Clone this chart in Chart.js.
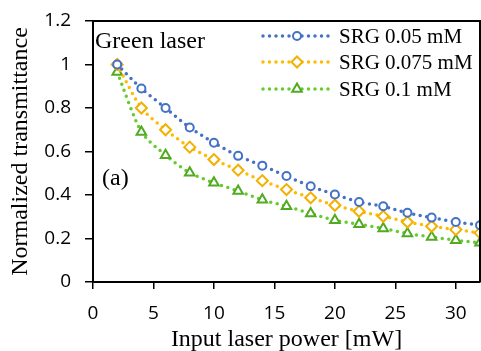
<!DOCTYPE html>
<html>
<head>
<meta charset="utf-8">
<script src="https://cdn.jsdelivr.net/npm/chart.js@4/dist/chart.umd.min.js"></script>
<style>
  html, body { margin: 0; padding: 0; background: #fff; }
  canvas { display: block; }
</style>
</head>
<body>
<canvas id="c" width="481" height="351"></canvas>
<script>
// ---- data ----
const powers = [2, 4, 6, 8, 10, 12, 14, 16, 18, 20, 22, 24, 26, 28, 30, 32];
const srg005 = [1.00, 0.89, 0.80, 0.71, 0.64, 0.58, 0.535, 0.487, 0.44, 0.402, 0.368, 0.348, 0.318, 0.296, 0.276, 0.261];
const srg0075 = [1.00, 0.80, 0.70, 0.62, 0.563, 0.514, 0.466, 0.425, 0.387, 0.353, 0.325, 0.302, 0.276, 0.256, 0.241, 0.226];
const srg01 = [0.965, 0.69, 0.583, 0.502, 0.456, 0.418, 0.378, 0.348, 0.315, 0.284, 0.266, 0.246, 0.223, 0.207, 0.192, 0.18];
const seriesLabels = ['SRG 0.05 mM', 'SRG 0.075 mM', 'SRG 0.1 mM'];
const xTickValues = [0, 5, 10, 15, 20, 25, 30];
const yTickValues = [0, 0.2, 0.4, 0.6, 0.8, 1.0, 1.2];

const toPts = (ys) => powers.map((x, i) => ({ x: x, y: ys[i] }));

const styles = [
  { line: '#4472C4', mark: '#4472C4', pointStyle: 'circle', r: 4 },
  { line: '#FFBB00', mark: '#F2B000', pointStyle: 'rectRot', r: 5.5 },
  { line: '#66CC2E', mark: '#52AA22', pointStyle: 'triangle', r: 5.5 }
];
const seriesData = [srg005, srg0075, srg01];

const datasets = seriesData.map((d, i) => ({
  label: seriesLabels[i],
  data: toPts(d),
  borderColor: styles[i].line,
  borderWidth: 3.5,
  borderDash: [0, 6.5],
  borderCapStyle: 'round',
  tension: 0.25,
  pointStyle: styles[i].pointStyle,
  pointRadius: styles[i].r,
  pointBorderWidth: 2,
  pointBorderColor: styles[i].mark,
  pointBackgroundColor: '#ffffff',
  fill: false
}));

const overlay = {
  id: 'overlay',
  afterDraw(chart) {
    const ctx = chart.ctx;
    const a = chart.chartArea;
    ctx.save();
    // frame top and right
    ctx.strokeStyle = '#000';
    ctx.lineWidth = 2;
    ctx.beginPath();
    ctx.moveTo(a.left, a.top);
    ctx.lineTo(a.right, a.top);
    ctx.lineTo(a.right, a.bottom);
    ctx.stroke();

    // annotations
    ctx.fillStyle = '#000';
    ctx.font = '24px "Liberation Serif", "Times New Roman", serif';
    ctx.textBaseline = 'alphabetic';
    ctx.textAlign = 'left';
    ctx.fillText('Green laser', 95, 48);
    ctx.fillText('(a)', 102, 185);

    // legend
    const rows = [36, 62, 89];
    const x0 = 263, x1 = 329, xm = 297;
    chart.data.datasets.forEach((ds, i) => {
      const y = rows[i];
      ctx.save();
      ctx.strokeStyle = ds.borderColor;
      ctx.lineWidth = ds.borderWidth;
      ctx.lineCap = 'round';
      ctx.setLineDash(ds.borderDash);
      ctx.beginPath();
      ctx.moveTo(x0, y);
      ctx.lineTo(x1, y);
      ctx.stroke();
      ctx.restore();
      ctx.save();
      ctx.fillStyle = '#fff';
      ctx.strokeStyle = ds.pointBorderColor;
      ctx.lineWidth = 2;
      Chart.helpers.drawPoint(ctx, { pointStyle: ds.pointStyle, radius: ds.pointRadius, borderWidth: 2, rotation: 0 }, xm, y);
      ctx.restore();
      ctx.fillStyle = '#000';
      ctx.font = '21px "Liberation Serif", "Times New Roman", serif';
      ctx.textBaseline = 'middle';
      ctx.fillText(ds.label, 339, y + 1);
    });
    ctx.restore();
  }
};

new Chart(document.getElementById('c'), {
  type: 'line',
  data: { datasets },
  options: {
    responsive: false,
    animation: false,
    devicePixelRatio: 1,
    layout: { autoPadding: false, padding: { top: 21, right: 1, left: 0, bottom: 0 } },
    plugins: { legend: { display: false }, tooltip: { enabled: false } },
    scales: {
      x: {
        type: 'linear',
        min: 0, max: 32,
        afterFit(s) { s.height = 69; s.paddingLeft = 0; s.paddingRight = 0; },
        afterBuildTicks(s) { s.ticks = xTickValues.map(v => ({ value: v })); },
        ticks: {
          color: '#000',
          padding: 13,
          font: { family: '"Open Sans", "Liberation Sans", sans-serif', size: 19, lineHeight: 1.2 },
          callback: (v) => String(v)
        },
        grid: { display: true, drawOnChartArea: false, drawTicks: true, tickLength: 7, color: '#000', tickColor: '#000', lineWidth: 1.5 },
        border: { display: true, color: '#000', width: 2 },
        title: {
          display: true,
          text: 'Input laser power [mW]',
          color: '#000',
          font: { family: '"Liberation Serif", "Times New Roman", serif', size: 24, lineHeight: 1 },
          padding: { top: 0, bottom: -1 }
        }
      },
      y: {
        type: 'linear',
        min: 0, max: 1.2,
        afterFit(s) { s.width = 93; s.paddingTop = 0; s.paddingBottom = 0; },
        afterBuildTicks(s) { s.ticks = yTickValues.map(v => ({ value: v })); },
        ticks: {
          color: '#000',
          padding: 14,
          font: { family: '"Open Sans", "Liberation Sans", sans-serif', size: 19, lineHeight: 1.2 },
          callback: (v) => String(Number(v.toFixed(1)))
        },
        grid: { display: true, drawOnChartArea: false, drawTicks: true, tickLength: 8, color: '#000', tickColor: '#000', lineWidth: 1.5 },
        border: { display: true, color: '#000', width: 2 },
        title: {
          display: true,
          text: 'Normalized transmittance',
          color: '#000',
          font: { family: '"Liberation Serif", "Times New Roman", serif', size: 24, lineHeight: 1.2 },
          padding: { top: 6, bottom: 0 }
        }
      }
    }
  },
  plugins: [overlay]
});
</script>
</body>
</html>
